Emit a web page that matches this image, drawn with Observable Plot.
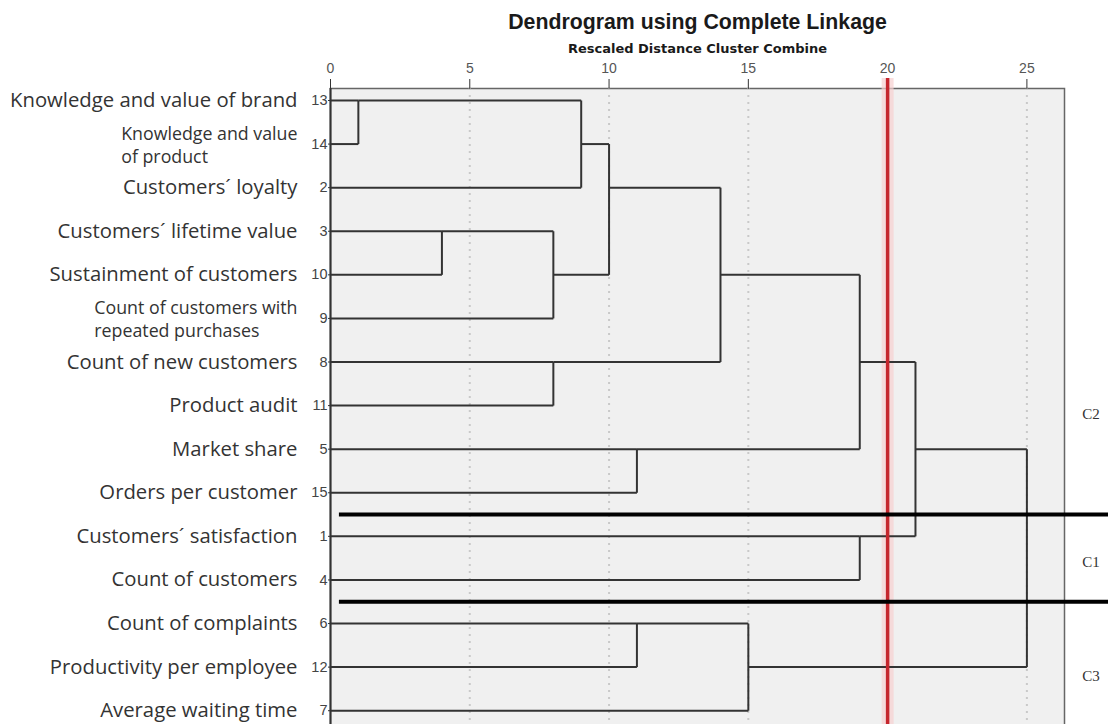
<!DOCTYPE html>
<html>
<head>
<meta charset="utf-8">
<script src="https://cdn.jsdelivr.net/npm/d3@7"></script>
<script src="https://cdn.jsdelivr.net/npm/@observablehq/plot@0.6"></script>
<style>
  html, body { margin: 0; padding: 0; background: #fff; overflow: hidden; }
</style>
</head>
<body>
<div id="chart"></div>
<script>
// ---- data ----
const titleText = "Dendrogram using Complete Linkage";
const subtitleText = "Rescaled Distance Cluster Combine";

// leaf order, top to bottom
const leafOrder = [13, 14, 2, 3, 10, 9, 8, 11, 5, 15, 1, 4, 6, 12, 7];

const variableIds = [1, 2, 3, 4, 5, 6, 7, 8, 9, 10, 11, 12, 13, 14, 15];
const variableLabels = [
  "Customers´ satisfaction",
  "Customers´ loyalty",
  "Customers´ lifetime value",
  "Count of customers",
  "Market share",
  "Count of complaints",
  "Average waiting time",
  "Count of new customers",
  "Count of customers with\nrepeated purchases",
  "Sustainment of customers",
  "Product audit",
  "Productivity per employee",
  "Knowledge and value of brand",
  "Knowledge and value\nof product",
  "Orders per customer"
];

// agglomeration schedule (cluster A, cluster B, rescaled distance)
const mergeA = [13, 3, 3, 8, 13, 13, 5, 6, 13, 6, 13, 1, 13, 13];
const mergeB = [14, 10, 9, 11, 2, 3, 15, 12, 8, 7, 5, 4, 1, 6];
const mergeDistance = [1, 4, 8, 8, 9, 10, 11, 11, 14, 15, 19, 19, 21, 25];

const tickValues = [0, 5, 10, 15, 20, 25];
const cutoffDistance = 20;

const clusterNames = ["C2", "C1", "C3"];
const clusterLastLeaf = [15, 4, 7];          // last variable (in leaf order) of each group
const clusterLabelRow = [7.2, 10.6, 13.2];  // where the group name sits

// ---- build dendrogram segments ----
const labelById = new Map(variableIds.map((id, i) => [id, variableLabels[i]]));
const rowById = new Map(leafOrder.map((id, i) => [id, i]));
const clusterOf = new Map();
leafOrder.forEach(id => clusterOf.set(id, {row: rowById.get(id), x: 0, members: [id]}));

const segments = [];
mergeA.forEach((a, i) => {
  const b = mergeB[i], d = mergeDistance[i];
  const ca = clusterOf.get(a), cb = clusterOf.get(b);
  segments.push({x1: ca.x, y1: ca.row, x2: d, y2: ca.row});
  segments.push({x1: cb.x, y1: cb.row, x2: d, y2: cb.row});
  segments.push({x1: d, y1: ca.row, x2: d, y2: cb.row});
  const merged = {row: Math.floor((ca.row + cb.row) / 2), x: d, members: ca.members.concat(cb.members)};
  merged.members.forEach(m => clusterOf.set(m, merged));
});

const leaves = leafOrder.map((id, i) => ({id, row: i, label: labelById.get(id)}));
const singleLeaves = leaves.filter(d => !d.label.includes("\n"));
const multiLeaves = leaves.filter(d => d.label.includes("\n"));

const boundaries = clusterLastLeaf.slice(0, -1).map(id => rowById.get(id) + 0.5);
const clusterLabels = clusterNames.map((n, i) => ({name: n, row: clusterLabelRow[i]}));

// measure multi-line labels so that they are left aligned but end near the axis
const ctx = document.createElement("canvas").getContext("2d");
const multiFont = 17.8;
ctx.font = `${multiFont}px "Open Sans"`;
multiLeaves.forEach(d => {
  d.width = d3.max(d.label.split("\n"), s => ctx.measureText(s).width);
});

const marks = [
  Plot.frame({fill: "#f0f0f0", stroke: "#666", strokeWidth: 1.5}),
  Plot.ruleX(tickValues.filter(t => t > 0), {stroke: "#c9c9c9", strokeWidth: 2, strokeDasharray: "2,5"}),
  Plot.ruleX([0], {stroke: "#333", strokeWidth: 2}),
  Plot.axisX({anchor: "top", ticks: tickValues, tickSize: 10, tickFormat: () => "", stroke: "#333", label: null}),
  Plot.text(tickValues, {x: d => d, frameAnchor: "top", lineAnchor: "middle", dy: -20, text: d => String(d),
              fontSize: 14, fill: "#555"}),
  Plot.axisY({ticks: d3.range(leafOrder.length), tickFormat: () => "", tickSize: 2, stroke: "#333", label: null}),
  Plot.text(leaves, {x: () => 0, y: "row", text: d => String(d.id), textAnchor: "end", dx: -3,
              fontSize: 14.5, fill: "#444"}),
  Plot.ruleX([cutoffDistance], {stroke: "#f6d0d0", strokeWidth: 12, strokeOpacity: 0.7, insetTop: -10}),
  Plot.link(segments, {x1: "x1", y1: "y1", x2: "x2", y2: "y2", stroke: "#333", strokeWidth: 2}),
  Plot.ruleX([cutoffDistance], {stroke: "#c5262d", strokeWidth: 3.5, insetTop: -10}),
  Plot.ruleY(boundaries, {y: d => d, x1: 0.32, x2: 28, stroke: "#000", strokeWidth: 4, clip: false}),
  Plot.text(singleLeaves, {x: () => 0, y: "row", text: "label", textAnchor: "end", dx: -33,
              fontSize: 20.3, fontFamily: "'Open Sans'", fill: "#333"}),
  ...multiLeaves.map(d => Plot.text([d], {x: () => 0, y: "row", text: "label", textAnchor: "start",
              dx: -33 - d.width, fontSize: multiFont, lineHeight: 1.3, fontFamily: "'Open Sans'", fill: "#333"})),
  Plot.text(clusterLabels, {x: () => 27.3, y: "row", text: "name", fontSize: 15,
              fontFamily: "'Liberation Serif', serif", fill: "#333"}),
  Plot.text([titleText], {frameAnchor: "top", lineAnchor: "middle", dy: -66, fontSize: 21.3, fontWeight: "bold", fill: "#1a1a1a"}),
  Plot.text([subtitleText], {frameAnchor: "top", lineAnchor: "middle", dy: -40, fontSize: 13, fontWeight: "bold",
              fontFamily: "'DejaVu Sans', sans-serif", fill: "#1a1a1a"})
];

const chart = Plot.plot({
  width: 1108,
  height: 740,
  marginLeft: 330,
  marginRight: 44,
  marginTop: 88,
  marginBottom: 8,
  style: {fontFamily: "'Liberation Sans', Arial, sans-serif", background: "#fff", overflow: "visible"},
  x: {domain: [0, 26.35]},
  y: {domain: [-0.275, 14.5], reverse: true},
  marks
});
document.getElementById("chart").appendChild(chart);
</script>
</body>
</html>
